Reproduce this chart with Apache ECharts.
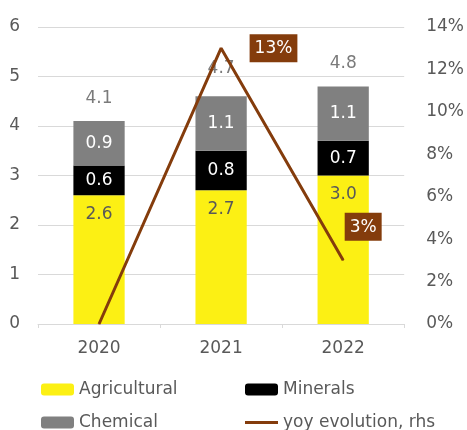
<!DOCTYPE html>
<html>
<head>
<meta charset="utf-8">
<script src="https://cdn.jsdelivr.net/npm/echarts@6/dist/echarts.min.js"></script>
<style>
  html, body { margin: 0; padding: 0; background: #fff; }
  #chart { width: 467px; height: 430px; }
</style>
</head>
<body>
<div id="chart"></div>
<script>
// Stacked volumes by segment with the year-on-year change on the right axis
const years = ['2020', '2021', '2022'];
const agricultural = [2.6, 2.7, 3.0];
const minerals = [0.6, 0.8, 0.7];
const chemical = [0.9, 1.1, 1.1];
const totals = [4.1, 4.7, 4.8];
const yoyEvolution = [0, 13, 3];
const leftTicks = [0, 1, 2, 3, 4, 5, 6];
const rightTicks = [0, 2, 4, 6, 8, 10, 12, 14];

const FONT = 'DejaVu Sans';
const WEIGHT = 'normal';
const GREY_TEXT = '#595959';
const BROWN = '#843C0C';

const chart = echarts.init(document.getElementById('chart'), null, { renderer: 'canvas' });

const segLabel = (color, position, distance) => ({
  show: true,
  position: position,
  distance: distance,
  color: color,
  fontFamily: FONT,
  fontWeight: WEIGHT,
  fontSize: 17,
  formatter: (p) => p.value.toFixed(1)
});

// one legend block per entry so the two columns line up
const legendAt = (name, left, top, extra) => Object.assign({
  left: left, top: top,
  itemWidth: 33, itemHeight: 12, itemGap: 0,
  textStyle: { fontFamily: FONT, fontWeight: WEIGHT, fontSize: 17, color: GREY_TEXT },
  data: [name]
}, extra || {});

chart.setOption({
  animation: false,
  textStyle: { fontFamily: FONT, fontWeight: WEIGHT },
  grid: { left: 38, right: 60, top: 27, bottom: 106, containLabel: false },
  legend: [
    legendAt('Agricultural', 36, 376),
    legendAt('Minerals', 240, 376),
    legendAt('Chemical', 36, 409),
    legendAt('yoy evolution, rhs', 240, 409, {
      itemHeight: 3,
      data: [{ name: 'yoy evolution, rhs', icon: 'rect', itemStyle: { color: BROWN } }]
    })
  ],
  xAxis: {
    type: 'category',
    data: years,
    axisLine: { lineStyle: { color: '#D9D9D9', width: 1 } },
    axisTick: { show: true, length: 4, lineStyle: { color: '#D9D9D9' } },
    axisLabel: { color: GREY_TEXT, fontFamily: FONT, fontWeight: WEIGHT, fontSize: 17, margin: 16 }
  },
  yAxis: [
    {
      type: 'value', min: leftTicks[0], max: leftTicks[leftTicks.length - 1], interval: 1,
      axisLine: { show: false }, axisTick: { show: false },
      splitLine: { lineStyle: { color: '#D9D9D9', width: 1 } },
      axisLabel: { color: GREY_TEXT, fontFamily: FONT, fontWeight: WEIGHT, fontSize: 17, margin: 18 }
    },
    {
      type: 'value', min: rightTicks[0], max: rightTicks[rightTicks.length - 1], interval: 2,
      position: 'right',
      axisLine: { show: false }, axisTick: { show: false },
      splitLine: { show: false },
      axisLabel: { color: GREY_TEXT, fontFamily: FONT, fontWeight: WEIGHT, fontSize: 17, margin: 22, formatter: '{value}%' }
    }
  ],
  series: [
    {
      name: 'Agricultural', type: 'bar', stack: 'vol', barWidth: '42%',
      itemStyle: { color: '#FCF014' },
      label: segLabel(GREY_TEXT, 'insideTop', 11),
      data: agricultural
    },
    {
      name: 'Minerals', type: 'bar', stack: 'vol',
      itemStyle: { color: '#000000' },
      label: segLabel('#FFFFFF', 'inside', 5),
      data: minerals
    },
    {
      name: 'Chemical', type: 'bar', stack: 'vol',
      itemStyle: { color: '#808080' },
      label: segLabel('#FFFFFF', 'inside', 5),
      data: chemical
    },
    {
      name: 'Total', type: 'scatter', symbolSize: 0,
      label: {
        show: true, position: 'top', distance: 14,
        color: GREY_TEXT, fontFamily: FONT, fontWeight: WEIGHT, fontSize: 17,
        formatter: (p) => p.value.toFixed(1)
      },
      data: totals,
      z: 1
    },
    {
      name: 'yoy evolution, rhs', type: 'line', yAxisIndex: 1,
      symbol: 'circle', symbolSize: 1,
      lineStyle: { color: BROWN, width: 3 },
      itemStyle: { color: BROWN },
      z: 5,
      data: yoyEvolution.map((v, i) => {
        const item = { value: v };
        if (i === 0) {
          item.label = { show: false };
        } else if (i === 1) {
          item.label = { show: true, position: 'right', distance: 28 };
        } else {
          item.label = { show: true, position: 'top', distance: 19, offset: [20, 0] };
        }
        return item;
      }),
      label: {
        show: true,
        color: '#FFFFFF', backgroundColor: BROWN,
        fontFamily: FONT, fontWeight: WEIGHT, fontSize: 17,
        padding: [6, 5, 5, 5],
        formatter: (p) => p.value + '%'
      }
    }
  ]
});
</script>
</body>
</html>
